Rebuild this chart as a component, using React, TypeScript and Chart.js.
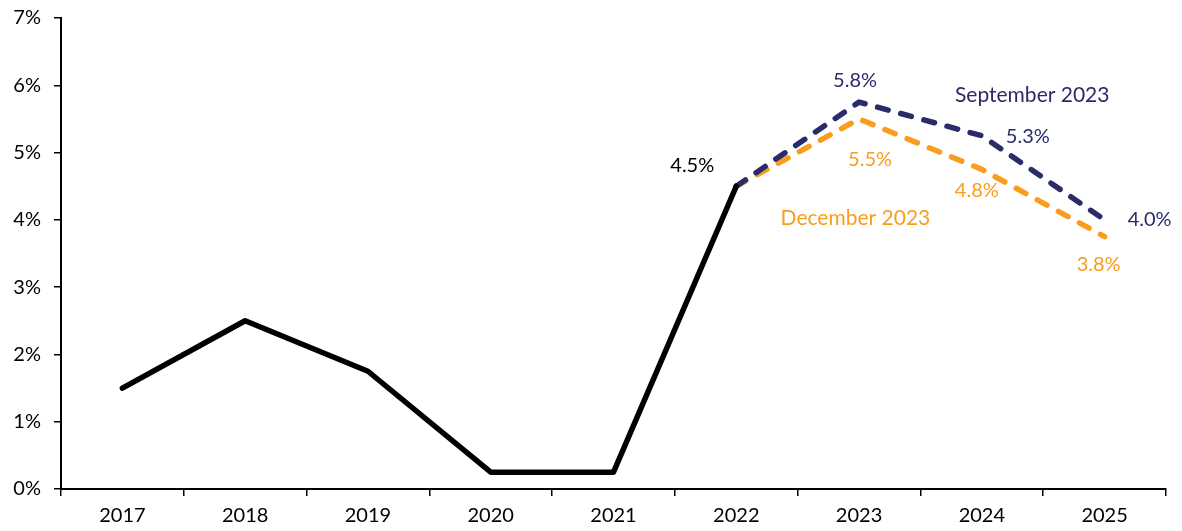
import React, { useEffect, useRef } from "react";
import { Chart, registerables } from "chart.js";

Chart.register(...registerables);

const years = ["2017", "2018", "2019", "2020", "2021", "2022", "2023", "2024", "2025"];
const actual = [1.5, 2.5, 1.75, 0.25, 0.25, 4.5, null, null, null];
const september2023 = [null, null, null, null, null, 4.5, 5.75, 5.25, 4.0];
const december2023 = [null, null, null, null, null, 4.5, 5.5, 4.75, 3.75];
const yTicks = [0, 1, 2, 3, 4, 5, 6, 7];

const NAVY = "#2a2c6a";
const ORANGE = "#f99d1c";
const FONT = "Lato, 'Open Sans', sans-serif";

// label annotations: [datasetIndex, pointIndex, text, dx, dy, color]
const pointLabels: [number, number, string, number, number, string][] = [
  [0, 5, "4.5%", -44, -21, "#000"],
  [1, 6, "5.8%", -4, -22, NAVY],
  [1, 7, "5.3%", 46, 1, NAVY],
  [1, 8, "4.0%", 45, 0, NAVY],
  [2, 6, "5.5%", 11, 41, ORANGE],
  [2, 7, "4.8%", -5, 21, ORANGE],
  [2, 8, "3.8%", -6, 28, ORANGE],
];

const labelPlugin = {
  id: "customLabels",
  afterDatasetsDraw(chart: any) {
    const ctx = chart.ctx;
    const xs = chart.scales.x;
    const ys = chart.scales.y;
    const dsets = chart.data.datasets;
    ctx.save();
    ctx.font = `20px ${FONT}`;
    ctx.textAlign = "center";
    ctx.textBaseline = "middle";
    for (const [di, pi, text, dx, dy, color] of pointLabels) {
      const v = dsets[di].data[pi];
      const x = xs.getPixelForValue(pi);
      const y = ys.getPixelForValue(v);
      ctx.fillStyle = color;
      ctx.fillText(text, x + dx, y + dy);
    }
    ctx.font = `21px ${FONT}`;
    ctx.fillStyle = NAVY;
    ctx.fillText("September 2023", (xs.getPixelForValue(7) + xs.getPixelForValue(8)) / 2 - 11, ys.getPixelForValue(5.85));
    ctx.fillStyle = ORANGE;
    ctx.fillText("December 2023", (xs.getPixelForValue(6) + xs.getPixelForValue(7)) / 2 - 65, ys.getPixelForValue(4.03));
    ctx.restore();
  },
};

export default function App() {
  const ref = useRef<HTMLCanvasElement>(null);
  useEffect(() => {
    document.body.style.margin = "0";
    const chart = new Chart(ref.current!, {
      type: "line",
      data: {
        labels: years,
        datasets: [
          {
            data: actual,
            borderColor: "#000",
            borderWidth: 5.5,
            pointRadius: 0,
            borderCapStyle: "round",
            borderJoinStyle: "round",
            spanGaps: false,
          },
          {
            data: september2023,
            borderColor: NAVY,
            borderWidth: 5.5,
            pointRadius: 0,
            borderDash: [11, 13],
            borderCapStyle: "round",
            borderJoinStyle: "round",
          },
          {
            data: december2023,
            borderColor: ORANGE,
            borderWidth: 5.5,
            pointRadius: 0,
            borderDash: [11, 13],
            borderCapStyle: "round",
            borderJoinStyle: "round",
          },
        ],
      } as any,
      options: {
        animation: false,
        responsive: false,
        layout: { padding: { top: 18, right: 16, left: 0, bottom: 0 } },
        plugins: { legend: { display: false }, tooltip: { enabled: false } },
        scales: {
          x: {
            offset: true,
            grid: { offset: true, drawOnChartArea: false, drawTicks: true, tickLength: 7, color: "#000", lineWidth: 1.5 },
            border: { color: "#000", width: 2 },
            ticks: { color: "#000", font: { size: 20, family: FONT }, padding: 8, maxRotation: 0 },
            afterFit: (s: any) => { s.height = 42; s.paddingLeft = 0; s.paddingRight = 0; },
          },
          y: {
            min: 0,
            max: 7,
            afterBuildTicks: (s: any) => { s.ticks = yTicks.map((v) => ({ value: v })); },
            grid: { drawOnChartArea: false, drawTicks: true, tickLength: 7, color: "#000", lineWidth: 1.5 },
            border: { color: "#000", width: 2 },
            ticks: { color: "#000", font: { size: 20, family: FONT }, padding: 13, callback: (v: any) => `${v}%` },
            afterFit: (s: any) => { s.width = 61; s.paddingTop = 0; s.paddingBottom = 0; },
          },
        },
      } as any,
      plugins: [labelPlugin],
    });
    return () => chart.destroy();
  }, []);
  return (
    <div style={{ position: "absolute", left: 0, top: 0, width: 1182, height: 531, background: "#fff" }}>
      <canvas ref={ref} width={1182} height={531} style={{ width: 1182, height: 531 }} />
    </div>
  );
}
